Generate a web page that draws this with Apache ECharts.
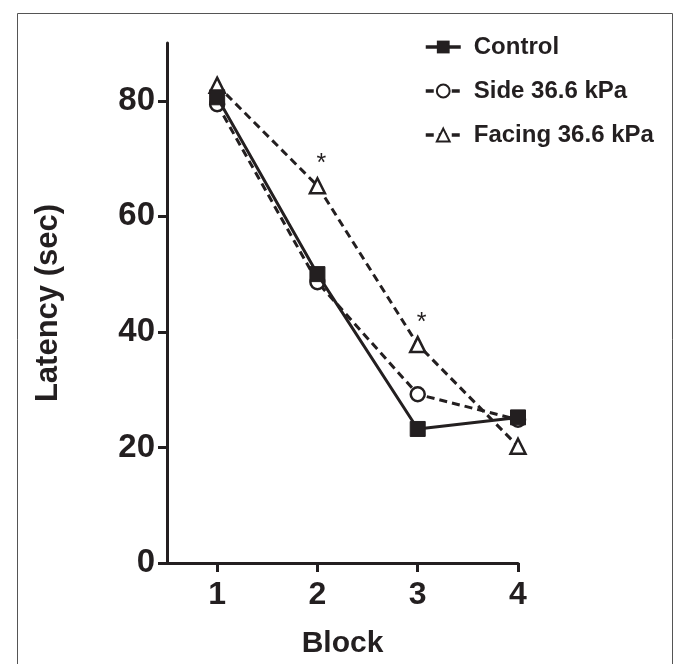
<!DOCTYPE html>
<html>
<head>
<meta charset="utf-8">
<script src="https://cdn.jsdelivr.net/npm/echarts@6/dist/echarts.min.js"></script>
<style>html,body{margin:0;padding:0;background:#fff;}#c{width:673px;height:664px;}</style>
</head>
<body>
<div id="c"></div>
<script>
var blocks = [1, 2, 3, 4];
var control = [80.6, 50.0, 23.2, 25.2];
var side = [79.4, 48.6, 29.2, 24.8];
var facing = [82.7, 65.3, 37.8, 20.2];
var facingSig = ['', '*', '*', ''];
var yTicks = [0, 20, 40, 60, 80];
var xTicks = [1, 2, 3, 4];

var ink = '#231f20';
function pairs(vals) { return blocks.map(function (b, i) { return [b, vals[i]]; }); }

var chart = echarts.init(document.getElementById('c'));
chart.setOption({
  animation: false,
  backgroundColor: '#fff',
  graphic: [{
    type: 'rect', left: 15, top: 11, silent: true,
    shape: { width: 655, height: 670 },
    style: { fill: 'none', stroke: '#555', lineWidth: 1 }
  }],
  grid: { left: 167, right: 155, top: 43, bottom: 97, containLabel: false },
  legend: {
    orient: 'vertical', left: 419, top: 30, itemGap: 20,
    itemWidth: 35, itemHeight: 16,
    lineStyle: { width: 3.5 },
    textStyle: { fontFamily: 'Liberation Sans, Arial', fontWeight: 'bold', fontSize: 24, color: ink, padding: [0, 0, 0, 8] },
    data: ['Control', 'Side 36.6 kPa', 'Facing 36.6 kPa']
  },
  xAxis: {
    type: 'value', min: 0.5, max: 4,
    name: 'Block', nameLocation: 'middle', nameGap: 66,
    nameTextStyle: { fontFamily: 'Liberation Sans, Arial', fontWeight: 'bold', fontSize: 30, color: ink },
    axisLine: { lineStyle: { color: ink, width: 3 } },
    axisTick: { show: true, length: 9, lineStyle: { color: ink, width: 3 }, customValues: xTicks },
    axisLabel: { fontFamily: 'Liberation Sans, Arial', fontWeight: 'bold', fontSize: 32, color: ink, margin: 16, customValues: xTicks },
    splitLine: { show: false }
  },
  yAxis: {
    type: 'value', min: 0, max: 90,
    name: 'Latency (sec)', nameLocation: 'middle', nameGap: 103, nameRotate: 90,
    nameTextStyle: { fontFamily: 'Liberation Sans, Arial', fontWeight: 'bold', fontSize: 31, color: ink },
    axisLine: { show: true, lineStyle: { color: ink, width: 3 } },
    axisTick: { show: true, length: 9, lineStyle: { color: ink, width: 3 }, customValues: yTicks },
    axisLabel: { fontFamily: 'Liberation Sans, Arial', fontWeight: 'bold', fontSize: 33, color: ink, margin: 12, customValues: yTicks },
    splitLine: { show: false }
  },
  series: [
    {
      name: 'Facing 36.6 kPa', type: 'line', data: pairs(facing).map(function (p, i) {
        return {
          value: p,
          label: { show: facingSig[i] !== '', formatter: facingSig[i], position: 'top', distance: 0, offset: [4, 0], fontSize: 25, color: ink, fontFamily: 'Liberation Sans, Arial' }
        };
      }),
      symbol: 'triangle', symbolSize: 15,
      lineStyle: { color: ink, width: 3, type: [8, 5] },
      itemStyle: { color: '#fff', borderColor: ink, borderWidth: 2.5 },
      z: 2
    },
    {
      name: 'Side 36.6 kPa', type: 'line', data: pairs(side),
      symbol: 'circle', symbolSize: 14,
      lineStyle: { color: ink, width: 3, type: [8, 5] },
      itemStyle: { color: '#fff', borderColor: ink, borderWidth: 2.5 },
      z: 3
    },
    {
      name: 'Control', type: 'line', data: pairs(control),
      symbol: 'rect', symbolSize: 15,
      lineStyle: { color: ink, width: 3 },
      itemStyle: { color: ink, borderColor: ink },
      z: 4
    }
  ]
});
</script>
</body>
</html>
